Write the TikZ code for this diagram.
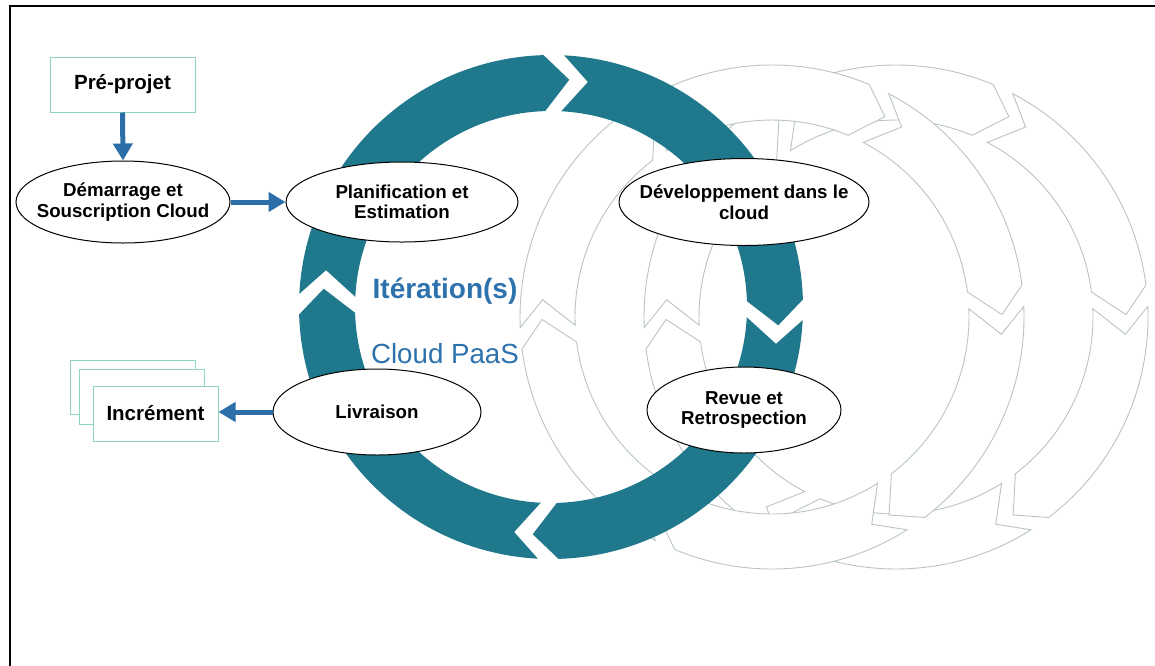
\documentclass[tikz,border=0pt]{standalone}
\usepackage{fontspec}
\setmainfont{Liberation Sans}
\usetikzlibrary{shapes.geometric,arrows.meta,calc}
\definecolor{tealc}{HTML}{20788C}
\definecolor{ablue}{HTML}{2C6EA8}
\definecolor{tblue}{HTML}{2E72AD}
\definecolor{greyc}{HTML}{B9C4C3}
\definecolor{mint}{HTML}{90D5C0}
\tikzset{
  stage/.style={ellipse, draw=black, line width=1pt, fill=white, inner sep=0pt},
  stagetext/.style={align=center, inner sep=0pt, font=\bfseries\fontsize{18.7}{20.5}\selectfont},
  mintbox/.style={rectangle, draw=mint, line width=1pt, fill=white, inner sep=0pt, align=center,
    font=\bfseries\fontsize{20.5}{22}\selectfont},
  barrow/.style={draw=ablue, line width=5pt, -{Triangle[length=17pt,width=19pt]}},
  greyseg/.style={fill=white, draw=greyc, line width=0.9pt},
}
\begin{document}
\begin{tikzpicture}[x=1pt,y=-1pt]
\useasboundingbox (0,0) rectangle (1155,665);
\fill[white] (0,0) rectangle (1155,665);
% frame (clipped at right and bottom)
\draw[line width=2pt] (1156,5.5) -- (10,5.5) -- (10,666);

% grey rings (back iterations)
\foreach \cx in {896,772}{
  \begin{scope}[shift={(\cx,317)}]
  \foreach \k in {0,...,5}{
    \pgfmathsetmacro\ta{60*\k-62.4}
    \pgfmathsetmacro\ha{60*\k-7.3}
    \pgfmathsetmacro\tp{60*\k-0.6}
    \pgfmathsetmacro\nt{60*\k-55.7}
    \path[greyseg] (\ta:252) arc[start angle=\ta, end angle=\ha, radius=252]
      -- (\tp:230) -- (\ha:197) arc[start angle=\ha, end angle=\ta, radius=197]
      -- (\nt:230) -- cycle;
  }
  \end{scope}
}

% teal ring
\begin{scope}[shift={(551,307)}]
\foreach \k in {0,...,3}{
  \pgfmathsetmacro\ta{90*\k-87}
  \pgfmathsetmacro\ha{90*\k-1.7}
  \pgfmathsetmacro\tp{90*\k+4.6}
  \pgfmathsetmacro\nt{90*\k-80.7}
  \fill[tealc] (\ta:252) arc[start angle=\ta, end angle=\ha, radius=252]
    -- (\tp:228) -- (\ha:196) arc[start angle=\ha, end angle=\ta, radius=196]
    -- (\nt:228) -- cycle;
}
\end{scope}

% centre labels
\node[text=tblue, font=\bfseries\fontsize{28}{30}\selectfont] (iter) at (445,291) {Itération(s)};
\node[text=tblue, font=\fontsize{27.7}{30}\selectfont] (paas) at (445,354) {Cloud PaaS};

% stages
\node[mintbox, minimum width=145pt, minimum height=55pt] (pre) at (122.5,84.5) {Pré-projet};
\node[stage, minimum width=214pt, minimum height=82pt,
  label={[stagetext]center:{Démarrage et\\Souscription Cloud}}] (dem) at (123,202) {};
\node[stage, minimum width=232pt, minimum height=80pt,
  label={[stagetext]center:{Planification et\\Estimation}}] (plan) at (402,202) {};
\node[stage, minimum width=250pt, minimum height=87pt,
  label={[stagetext]center:{Développement dans le\\cloud}}] (dev) at (744,202) {};
\node[stage, minimum width=194pt, minimum height=86pt,
  label={[stagetext]center:{Revue et\\Retrospection}}] (revue) at (744,410) {};
\node[stage, minimum width=208pt, minimum height=86pt,
  label={[stagetext]center:{Livraison}}] (livr) at (377,412) {};

% increment stack
\node[mintbox, minimum width=125pt, minimum height=54pt] (incrA) at (132.5,387) {};
\node[mintbox, minimum width=125pt, minimum height=55pt] (incrB) at (141.5,396.5) {};
\node[mintbox, minimum width=125pt, minimum height=55pt] (incr) at (155.5,413.5) {Incrément};

% connectors
\draw[barrow] (pre.south) -- (dem.north);
\draw[barrow] (dem.east) -- (plan.west);
\draw[barrow] (livr.west) -- (livr.west -| incr.east);
\end{tikzpicture}
\end{document}
